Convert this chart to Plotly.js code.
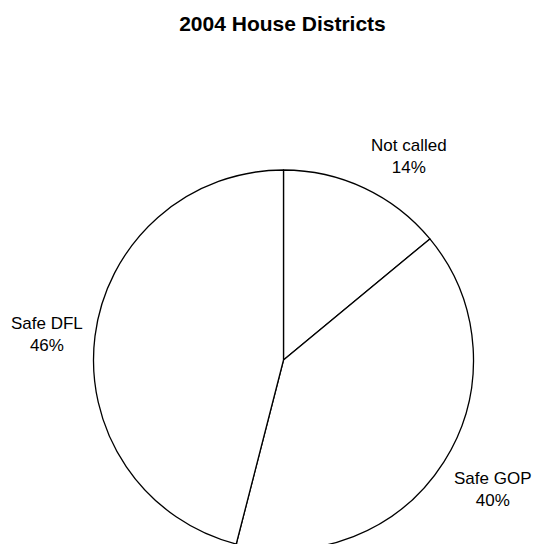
<!DOCTYPE html>
<html>
<head>
<meta charset="utf-8">
<script src="https://cdn.plot.ly/plotly-3.0.1.min.js"></script>
<style>
html, body { margin: 0; padding: 0; overflow: hidden; background: #fff; }
#chart { width: 533px; height: 556px; }
</style>
</head>
<body>
<div id="chart"></div>
<script>
const chartTitle = "2004 House Districts";
const categories = ["Not called", "Safe GOP", "Safe DFL"];
const values = [14, 40, 46];

const W = 533, H = 556;
const cxPx = 283.5, cyPx = 360, rPx = 190;
const domainX = [(cxPx - rPx) / W, (cxPx + rPx) / W];
const domainY = [(H - (cyPx + rPx)) / H, (H - (cyPx - rPx)) / H];

const total = values.reduce((a, b) => a + b, 0);
const annotations = [];
let cum = 0;
categories.forEach((c, i) => {
  const frac = values[i] / total;
  const mid = (cum + frac / 2) * 2 * Math.PI;
  cum += frac;
  const lr = rPx + 10;
  const s = Math.sin(mid), co = Math.cos(mid);
  const xPx = cxPx + lr * s;
  const yPx = cyPx - lr * co;
  annotations.push({
    xref: 'paper', yref: 'paper',
    x: xPx / W, y: (H - yPx) / H,
    xanchor: Math.abs(s) < 0.3 ? 'center' : (s > 0 ? 'left' : 'right'),
    yanchor: Math.abs(co) < 0.3 ? 'middle' : (co > 0 ? 'bottom' : 'top'),
    showarrow: false,
    text: c + '<br>' + Math.round(frac * 100) + '%',
    font: { family: 'Liberation Sans, Arial, sans-serif', size: 17, color: '#000' }
  });
});

const data = [{
  type: 'pie',
  labels: categories,
  values: values,
  sort: false,
  direction: 'clockwise',
  rotation: 0,
  textinfo: 'none',
  hoverinfo: 'label+percent',
  marker: { colors: ['#ffffff', '#ffffff', '#ffffff'], line: { color: '#000000', width: 1.3 } },
  domain: { x: domainX, y: domainY },
  showlegend: false
}];

const layout = {
  width: W, height: H,
  margin: { l: 0, r: 0, t: 0, b: 0 },
  paper_bgcolor: '#ffffff',
  plot_bgcolor: '#ffffff',
  showlegend: false,
  title: {
    text: '<b>' + chartTitle + '</b>',
    font: { family: 'Liberation Sans, Arial, sans-serif', size: 21, color: '#000' },
    x: 282.5 / W, xanchor: 'center', xref: 'paper',
    y: 1 - 23.5 / H, yanchor: 'middle', yref: 'container'
  },
  annotations: annotations
};

Plotly.newPlot('chart', data, layout, { staticPlot: true, displayModeBar: false });
</script>
</body>
</html>
